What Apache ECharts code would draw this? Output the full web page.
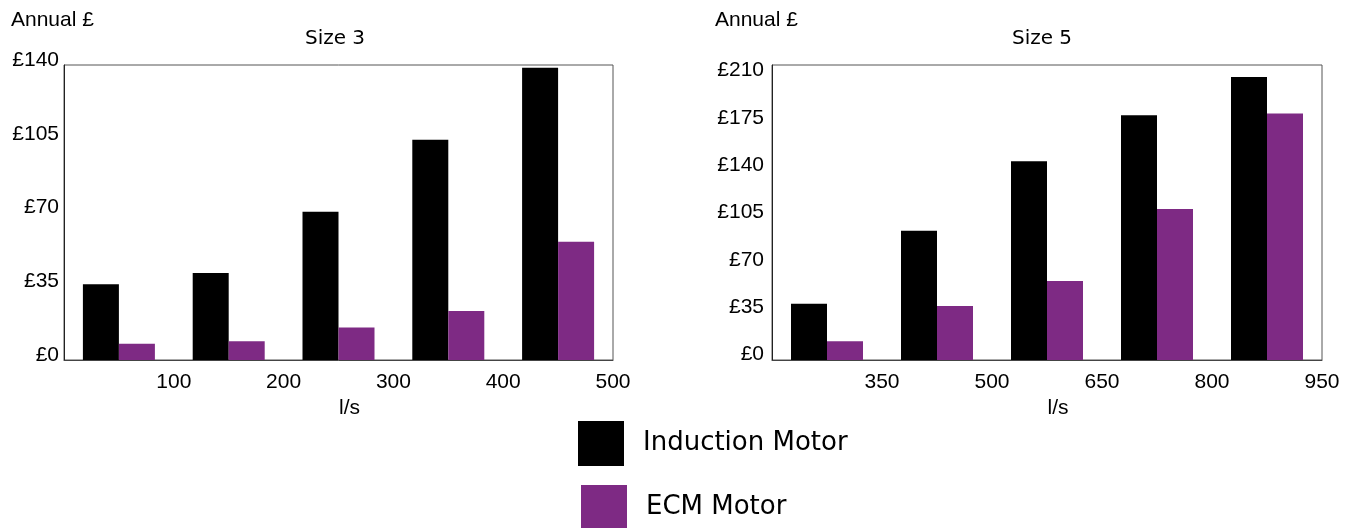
<!DOCTYPE html>
<html>
<head>
<meta charset="utf-8">
<script src="https://cdn.jsdelivr.net/npm/echarts@6/dist/echarts.min.js"></script>
<style>
  html, body { margin: 0; padding: 0; background: #fff; }
  #chart { width: 1347px; height: 528px; }
</style>
</head>
<body>
<div id="chart"></div>
<script>
// Annual running cost by airflow band (l/s) for two fan sizes
const size3Flow = ['100', '200', '300', '400', '500'];
const size3Induction = [36, 41.3, 70.4, 104.5, 138.7];
const size3Ecm = [7.7, 8.9, 15.4, 23.3, 56.1];
const size3Max = 140;

const size5Flow = ['350', '500', '650', '800', '950'];
const size5Induction = [40, 92, 141.5, 174.2, 201.4];
const size5Ecm = [13.3, 38.5, 56.2, 107.5, 175.4];
const size5Max = 210;

const costStep = 35;
const seriesNames = ['Induction Motor', 'ECM Motor'];
const seriesColors = ['#000000', '#7e2a84'];

const axisFont = 'Liberation Sans, Arial, sans-serif';
const titleFont = 'DejaVu Sans, sans-serif';
const axisSize = 21;

const grids = [
  { left: 64, top: 65, width: 549, height: 295 },
  { left: 772, top: 65, width: 550, height: 295 }
];

// Per-tick vertical nudges for the cost labels (negative = up).
function tickRich(max, offsetAt) {
  const rich = {};
  const n = max / costStep;
  for (let i = 0; i <= n; i++) {
    const off = offsetAt(i / n);
    rich['t' + i] = {
      fontFamily: axisFont, fontSize: axisSize, color: '#000',
      padding: off < 0 ? [0, 0, -2 * off, 0] : [2 * off, 0, 0, 0]
    };
  }
  return rich;
}

function costAxis(gridIndex, max, margin, offsetAt) {
  return {
    type: 'value', gridIndex, min: 0, max, interval: costStep,
    axisLine: { show: true, lineStyle: { color: '#222' } }, axisTick: { show: false },
    splitLine: { show: false },
    axisLabel: {
      formatter: v => '{t' + (v / costStep) + '|£' + v + '}',
      rich: tickRich(max, offsetAt),
      fontFamily: axisFont, fontSize: axisSize, color: '#000', margin
    }
  };
}

function barAxis(gridIndex, cats) {
  return {
    type: 'category', gridIndex, data: cats,
    axisLine: { show: true, lineStyle: { color: '#444', width: 1 } },
    axisTick: { show: false }, axisLabel: { show: false },
    splitLine: { show: false }
  };
}

// Flow labels sit on the boundaries between bar groups.
function labelAxis(gridIndex, cats) {
  return {
    type: 'category', gridIndex, data: [''].concat(cats),
    boundaryGap: false, position: 'bottom',
    axisLine: { show: false }, axisTick: { show: false }, splitLine: { show: false },
    axisLabel: { interval: 0, fontFamily: axisFont, fontSize: axisSize, color: '#000', margin: 12 },
    name: 'l/s', nameLocation: 'middle', nameGap: 37,
    nameTextStyle: { fontFamily: axisFont, fontSize: axisSize, color: '#000', padding: [0, 0, 0, 22] }
  };
}

function legendItem(name, left, top) {
  return {
    data: [name], orient: 'vertical', left, top, padding: 0,
    icon: 'rect', itemWidth: 46, itemHeight: 45,
    textStyle: { fontFamily: titleFont, fontSize: 26, color: '#000', padding: [4, 0, 0, 14] }
  };
}

function bar(name, color, xAxisIndex, yAxisIndex, data) {
  return { name, type: 'bar', xAxisIndex, yAxisIndex, data,
    barWidth: 36, barGap: '0%', itemStyle: { color } };
}

const option = {
  backgroundColor: '#fff',
  animation: false,
  title: [
    { text: 'Annual £', left: 11, top: 10, padding: 0,
      textStyle: { fontFamily: axisFont, fontSize: axisSize, fontWeight: 'normal', color: '#000' } },
    { text: 'Annual £', left: 715, top: 10, padding: 0,
      textStyle: { fontFamily: axisFont, fontSize: axisSize, fontWeight: 'normal', color: '#000' } },
    { text: 'Size 3', left: 335, textAlign: 'center', top: 29, padding: 0,
      textStyle: { fontFamily: titleFont, fontSize: 20, fontWeight: 'normal', color: '#000' } },
    { text: 'Size 5', left: 1042, textAlign: 'center', top: 29, padding: 0,
      textStyle: { fontFamily: titleFont, fontSize: 20, fontWeight: 'normal', color: '#000' } }
  ],
  legend: [
    legendItem(seriesNames[0], 578, 421),
    legendItem(seriesNames[1], 581, 485)
  ],
  grid: grids.map(g => Object.assign({ show: true, borderColor: '#555', borderWidth: 1 }, g)),
  xAxis: [
    barAxis(0, size3Flow), labelAxis(0, size3Flow),
    barAxis(1, size5Flow), labelAxis(1, size5Flow)
  ],
  yAxis: [
    costAxis(0, size3Max, 5, () => -5),
    costAxis(1, size5Max, 8, t => -5.5 + 11 * t)
  ],
  series: [
    bar(seriesNames[0], seriesColors[0], 0, 0, size3Induction),
    bar(seriesNames[1], seriesColors[1], 0, 0, size3Ecm),
    bar(seriesNames[0], seriesColors[0], 2, 1, size5Induction),
    bar(seriesNames[1], seriesColors[1], 2, 1, size5Ecm)
  ]
};

const chart = echarts.init(document.getElementById('chart'), null, { renderer: 'canvas' });
chart.setOption(option);
</script>
</body>
</html>
